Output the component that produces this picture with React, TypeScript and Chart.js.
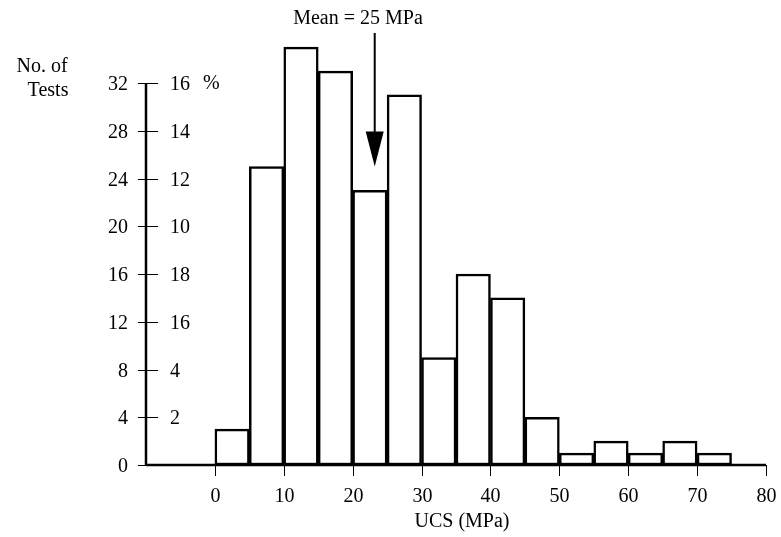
import React, { useEffect, useRef } from "react";
import { Chart, registerables } from "chart.js";

Chart.register(...registerables);

// UCS bins (MPa), lower edges and counts
const binStarts = [0, 5, 10, 15, 20, 25, 30, 35, 40, 45, 50, 55, 60, 65, 70];
const counts = [3, 25, 35, 33, 23, 31, 9, 16, 14, 4, 1, 2, 1, 2, 1];
const binWidth = 5;

const yTicks = [0, 4, 8, 12, 16, 20, 24, 28, 32];
const yTickLabels = ["0", "4", "8", "12", "16", "20", "24", "28", "32"];
const yPercentLabels = ["", "2", "4", "16", "18", "10", "12", "14", "16"];
const xTicks = [0, 10, 20, 30, 40, 50, 60, 70, 80];
const xTickLabels = ["0", "10", "20", "30", "40", "50", "60", "70", "80"];

const meanLabel = "Mean = 25 MPa";
const meanArrowX = 23.2;
const xTitle = "UCS (MPa)";
const yTitle = ["No. of", "Tests"];

const FONT = "'Liberation Serif', 'Times New Roman', serif";

const decorPlugin = {
  id: "decor",
  afterDraw(chart: any) {
    const { ctx, chartArea, scales } = chart;
    const xs = scales.x;
    const ys = scales.y;
    const y0 = ys.getPixelForValue(0);
    const yTop = ys.getPixelForValue(32);
    const left = chartArea.left;
    ctx.save();
    ctx.strokeStyle = "#000";
    ctx.fillStyle = "#000";
    // axes
    ctx.lineWidth = 2.5;
    ctx.beginPath();
    ctx.moveTo(left, yTop);
    ctx.lineTo(left, y0);
    ctx.moveTo(left, y0);
    ctx.lineTo(xs.getPixelForValue(80), y0);
    ctx.stroke();
    // y ticks
    ctx.lineWidth = 1;
    ctx.font = `20px ${FONT}`;
    ctx.textBaseline = "middle";
    yTicks.forEach((v, i) => {
      const py = Math.round(ys.getPixelForValue(v)) + 0.5;
      ctx.beginPath();
      ctx.moveTo(left - 8, py);
      ctx.lineTo(left + 12, py);
      ctx.stroke();
      ctx.textAlign = "right";
      ctx.fillText(yTickLabels[i], left - 18, py + 1);
      if (yPercentLabels[i]) {
        ctx.textAlign = "left";
        ctx.fillText(yPercentLabels[i], left + 24, py + 1);
      }
    });
    ctx.textAlign = "left";
    ctx.fillText("%", left + 57, yTop + 1);
    // x ticks
    ctx.textAlign = "center";
    xTicks.forEach((v, i) => {
      const px = Math.round(xs.getPixelForValue(v)) + 0.5;
      ctx.beginPath();
      ctx.moveTo(px, y0);
      ctx.lineTo(px, y0 + 11);
      ctx.stroke();
      ctx.fillText(xTickLabels[i], px, y0 + 32);
    });
    ctx.fillText(xTitle, 462, y0 + 57);
    // y title
    ctx.fillText(yTitle[0], 42, 67);
    ctx.fillText(yTitle[1], 48, 91);
    // mean annotation
    ctx.fillText(meanLabel, 358, 19);
    const ax = xs.getPixelForValue(meanArrowX);
    const tipY = ys.getPixelForValue(25);
    ctx.lineWidth = 2;
    ctx.beginPath();
    ctx.moveTo(ax, 33);
    ctx.lineTo(ax, tipY - 25);
    ctx.stroke();
    ctx.beginPath();
    ctx.moveTo(ax - 9, tipY - 35);
    ctx.lineTo(ax + 9, tipY - 35);
    ctx.lineTo(ax, tipY);
    ctx.closePath();
    ctx.fill();
    ctx.restore();
  },
};

export default function App() {
  const ref = useRef<HTMLCanvasElement>(null);
  useEffect(() => {
    document.body.style.margin = "0";
    const yMax = 36;
    const pxPerUnit = (465 - 83) / 32;
    const chart = new Chart(ref.current!, {
      type: "bar",
      data: {
        datasets: [
          {
            data: binStarts.map((s, i) => ({ x: s + binWidth / 2, y: counts[i] })),
            backgroundColor: "#fff",
            borderColor: "#000",
            borderWidth: 2.5,
            borderSkipped: false,
            barPercentage: 1,
            categoryPercentage: 1,
          },
        ],
      },
      options: {
        animation: false,
        responsive: false,
        events: [],
        layout: { padding: { left: 0, right: 15, top: 465 - yMax * pxPerUnit, bottom: 0 } },
        plugins: { legend: { display: false }, tooltip: { enabled: false } },
        scales: {
          x: {
            type: "linear",
            offset: false,
            min: -10,
            max: 80,
            grid: { display: false, offset: false },
            border: { display: false },
            ticks: { display: false },
            afterFit: (s: any) => {
              s.height = 537 - 465;
            },
          },
          y: {
            type: "linear",
            min: 0,
            max: yMax,
            grid: { display: false },
            border: { display: false },
            ticks: { display: false },
            afterFit: (s: any) => {
              s.width = 146;
            },
          },
        },
      },
      plugins: [decorPlugin],
    });
    return () => chart.destroy();
  }, []);
  return <canvas ref={ref} width={781} height={537} style={{ display: "block" }} />;
}
